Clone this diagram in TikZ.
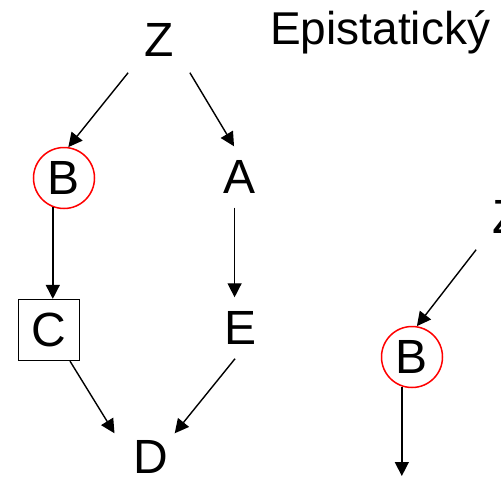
\documentclass[tikz,border=0pt]{standalone}
\usepackage{fontspec}
\setmainfont{Liberation Sans}
\usetikzlibrary{arrows.meta}

\begin{document}
\begin{tikzpicture}[x=1pt, y=-1pt,
    gene/.style={font=\fontsize{48}{52}\selectfont, inner sep=14pt},
    marked/.style={gene, circle, draw=red, line width=1.5pt, inner sep=0pt, minimum size=61pt},
    boxed/.style={gene, rectangle, draw, line width=1.3pt, inner sep=0pt, minimum size=61pt},
    arr/.style={line width=1.4pt, -{Triangle[length=14pt, width=14pt]}}]
    \useasboundingbox (0,0) rectangle (501,477);
    \clip (0,0) rectangle (501,477);
    \node[gene, inner sep=16pt] (z) at (159,40) {Z};
    \node[marked] (b) at (64,178) {B};
    \node[gene] (a) at (240,177) {A};
    \node[boxed] (c) at (49,330) {C};
    \node[gene] (e) at (241,328) {E};
    \node[gene, inner xsep=24pt, inner ysep=7pt] (d) at (151,457) {D};
    \node[gene, font=\fontsize{46}{50}\selectfont, anchor=base west, inner sep=0pt] (title) at (270,44) {Epistatický};
    \node[gene, inner sep=16pt] (z2) at (507,217) {Z};
    \node[marked] (b2) at (412,357) {B};
    \coordinate (out) at (402,476);
    \draw[arr] (z.south west) -- (b.82);
    \draw[arr] (z.south east) -- (a.101);
    \draw[arr] (b.249) -- (b.249 |- c.north);
    \draw[arr] (a.260) -- (a.260 |- e.north);
    \draw[arr] (c.-56) -- (d.147);
    \draw[arr] (e.259) -- (d.45);
    \draw[arr] (z2.south west) -- (b2.81);
    \draw[arr] (b2.251) -- (b2.251 |- out);
\end{tikzpicture}
\end{document}
